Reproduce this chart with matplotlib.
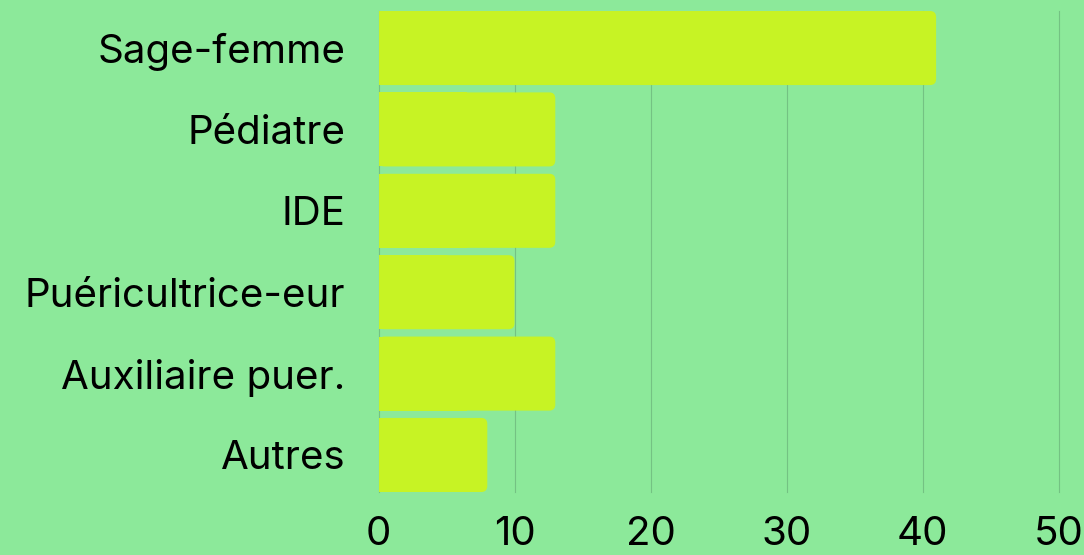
import matplotlib
matplotlib.use("Agg")
import matplotlib.pyplot as plt
from matplotlib.patches import FancyBboxPatch, Rectangle

categories = ["Sage-femme", "Pédiatre", "IDE", "Puéricultrice-eur", "Auxiliaire puer.", "Autres"]
values = [41, 13, 13, 10, 13, 8]
xticks = [0, 10, 20, 30, 40, 50]

BG = "#8ce99a"
BAR = "#c7f324"
GRID = "#74c283"

plt.rcParams['font.family'] = ['Inter', 'DejaVu Sans']

fig = plt.figure(figsize=(10.84, 5.55), dpi=100, facecolor=BG)
ax = fig.add_axes([378.5/1084, 1-492/555, 680/1084, 481/555])
ax.set_facecolor(BG)

h = 0.91
n = len(categories)
ax.set_xlim(0, 50)
ax.set_ylim(n - 1 + h/2, -h/2)

for xv in xticks:
    ax.axvline(xv, color=GRID, lw=0.8, zorder=0, clip_on=False)

rx = 0.44
aspect = (6/80.2) / rx
for i, v in enumerate(values):
    p = FancyBboxPatch((0, i - h/2), v, h,
                       boxstyle=f"round,pad=0,rounding_size={rx}",
                       mutation_aspect=aspect, fc=BAR, ec="none", zorder=2)
    ax.add_patch(p)
    ax.add_patch(Rectangle((0, i - h/2), v/2, h, fc=BAR, ec="none", zorder=2))

ax.set_yticks(range(n))
ax.set_yticklabels(categories)
ax.set_xticks(xticks)
ax.set_xticklabels([str(t) for t in xticks])
ax.tick_params(axis='y', length=0, pad=24, labelsize=29, labelcolor="black")
ax.tick_params(axis='x', length=0, pad=17, labelsize=29, labelcolor="black")
for s in ax.spines.values():
    s.set_visible(False)

fig.savefig("out.png", dpi=100, facecolor=BG)
